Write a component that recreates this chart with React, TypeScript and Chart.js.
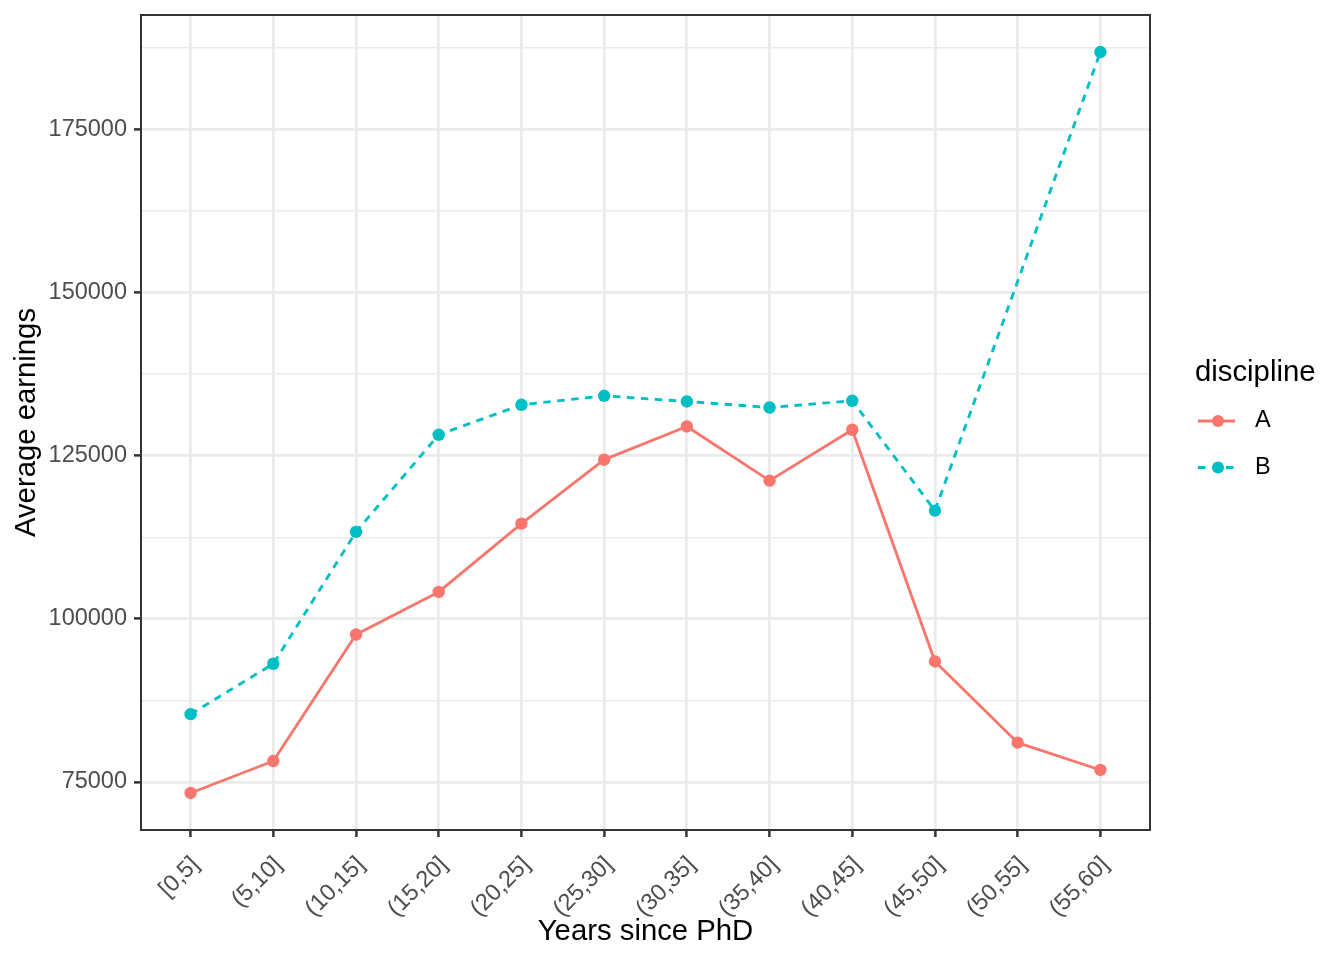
import React, { useEffect, useRef } from "react";
import { Chart, registerables } from "chart.js";

Chart.register(...registerables);

const categories = ["[0,5]", "(5,10]", "(10,15]", "(15,20]", "(20,25]", "(25,30]", "(30,35]", "(35,40]", "(40,45]", "(45,50]", "(50,55]", "(55,60]"];
const seriesA = [73320, 78210, 97600, 104130, 114600, 124390, 129480, 121180, 128980, 93470, 81030, 76840];
const seriesB: (number | null)[] = [85400, 93120, 113330, 128210, 132800, 134180, 133310, 132390, 133420, 116590, null, 186860];
const seriesNames = ["A", "B"];
const seriesColors = ["#F8766D", "#00BFC4"];
const yMajorTicks = [75000, 100000, 125000, 150000, 175000];
const yMinorTicks = [87500, 112500, 137500, 162500, 187500];
const legendTitle = "discipline";
const xTitle = "Years since PhD";
const yTitle = "Average earnings";

const FONT = '"Liberation Sans", Arial, Helvetica, sans-serif';

const allVals = [...seriesA, ...seriesB].filter((v) => v != null) as number[];
const dMin = Math.min(...allVals);
const dMax = Math.max(...allVals);
const expand = (dMax - dMin) * 0.05;

const panelAndLegend = {
  id: "panelAndLegend",
  afterDatasetsDraw(chart: any) {
    const { ctx, chartArea: a } = chart;
    ctx.save();
    ctx.strokeStyle = "#333333";
    ctx.lineWidth = 2;
    ctx.strokeRect(a.left, a.top, a.right - a.left, a.bottom - a.top);
    ctx.restore();
  },
  afterDraw(chart: any) {
    const { ctx, chartArea: a } = chart;
    const x0 = a.right + 45;
    ctx.save();
    ctx.fillStyle = "#000000";
    ctx.font = `29.3px ${FONT}`;
    ctx.textAlign = "left";
    ctx.textBaseline = "alphabetic";
    ctx.fillText(legendTitle, x0, 381);
    chart.data.datasets.forEach((ds: any, i: number) => {
      const yk = 421 + i * 46.5;
      ctx.strokeStyle = ds.borderColor;
      ctx.lineWidth = ds.borderWidth;
      ctx.setLineDash(ds.borderDash || []);
      ctx.beginPath();
      ctx.moveTo(x0 + 3, yk);
      ctx.lineTo(x0 + 40, yk);
      ctx.stroke();
      ctx.setLineDash([]);
      ctx.fillStyle = ds.borderColor;
      ctx.beginPath();
      ctx.arc(x0 + 23, yk, 6, 0, Math.PI * 2);
      ctx.fill();
      ctx.fillStyle = "#000000";
      ctx.font = `23.5px ${FONT}`;
      ctx.textBaseline = "middle";
      ctx.fillText(ds.label, x0 + 60, yk);
    });
    ctx.restore();
  },
};

export default function App() {
  const ref = useRef<HTMLCanvasElement>(null);
  useEffect(() => {
    const canvas = ref.current!;
    const chart = new Chart(canvas, {
      type: "line",
      data: {
        datasets: [
          {
            label: seriesNames[0],
            data: seriesA.map((y, i) => ({ x: i, y })),
            borderColor: seriesColors[0],
            backgroundColor: seriesColors[0],
            borderWidth: 2.85,
            borderJoinStyle: "round",
            pointRadius: 6.2,
            pointBorderWidth: 0,
            pointBackgroundColor: seriesColors[0],
            tension: 0,
            spanGaps: true,
          },
          {
            label: seriesNames[1],
            data: seriesB.map((y, i) => ({ x: i, y })),
            borderColor: seriesColors[1],
            backgroundColor: seriesColors[1],
            borderWidth: 2.85,
            borderDash: [7.5, 6.5],
            borderJoinStyle: "round",
            pointRadius: 6.2,
            pointBorderWidth: 0,
            pointBackgroundColor: seriesColors[1],
            tension: 0,
            spanGaps: true,
          },
        ],
      },
      options: {
        animation: false,
        responsive: false,
        devicePixelRatio: 1,
        layout: { padding: { left: 0, top: 15, right: 194, bottom: 0 } },
        plugins: { legend: { display: false }, tooltip: { enabled: false } },
        scales: {
          x: {
            type: "linear",
            min: -0.6,
            max: categories.length - 1 + 0.6,
            afterBuildTicks: (s: any) => {
              s.ticks = categories.map((_, i) => ({ value: i }));
            },
            afterFit: (s: any) => {
              s.height = 130;
              s.paddingLeft = 0;
              s.paddingRight = 0;
            },
            grid: {
              color: "#EBEBEB",
              lineWidth: 2.8,
              drawTicks: true,
              tickLength: 7,
              tickColor: "#333333",
              tickWidth: 2.5,
            },
            border: { display: false },
            ticks: {
              autoSkip: false,
              minRotation: 45,
              maxRotation: 45,
              padding: 14,
              labelOffset: 5,
              color: "#4D4D4D",
              font: { family: FONT, size: 23.5 },
              callback: (v: any) => categories[Math.round(Number(v))] ?? "",
            },
            title: {
              display: true,
              text: xTitle,
              color: "#000000",
              font: { family: FONT, size: 29.3 },
              padding: { top: 0, bottom: 11 },
            },
          },
          y: {
            type: "linear",
            min: dMin - expand,
            max: dMax + expand,
            afterBuildTicks: (s: any) => {
              s.ticks = [...yMajorTicks, ...yMinorTicks].sort((p, q) => p - q).map((v) => ({ value: v }));
            },
            afterFit: (s: any) => {
              s.width = 141;
              s.paddingTop = 0;
              s.paddingBottom = 0;
            },
            grid: {
              color: "#EBEBEB",
              lineWidth: (c: any) => (yMajorTicks.includes(c.tick?.value) ? 2.8 : 1.4),
              drawTicks: true,
              tickLength: 7,
              tickColor: (c: any) => (yMajorTicks.includes(c.tick?.value) ? "#333333" : "rgba(0,0,0,0)"),
              tickWidth: 2.5,
            },
            border: { display: false },
            ticks: {
              autoSkip: false,
              padding: 7,
              color: "#4D4D4D",
              font: { family: FONT, size: 23.5 },
              callback: (v: any) => (yMajorTicks.includes(Number(v)) ? String(v) : ""),
            },
            title: {
              display: true,
              text: yTitle,
              color: "#000000",
              font: { family: FONT, size: 29.3 },
              padding: { top: 9.5, bottom: 0 },
            },
          },
        },
      } as any,
      plugins: [panelAndLegend],
    });
    return () => chart.destroy();
  }, []);
  return (
    <div style={{ position: "fixed", left: 0, top: 0, width: 1344, height: 960, background: "#ffffff" }}>
      <canvas ref={ref} width={1344} height={960} style={{ display: "block", width: 1344, height: 960 }} />
    </div>
  );
}
